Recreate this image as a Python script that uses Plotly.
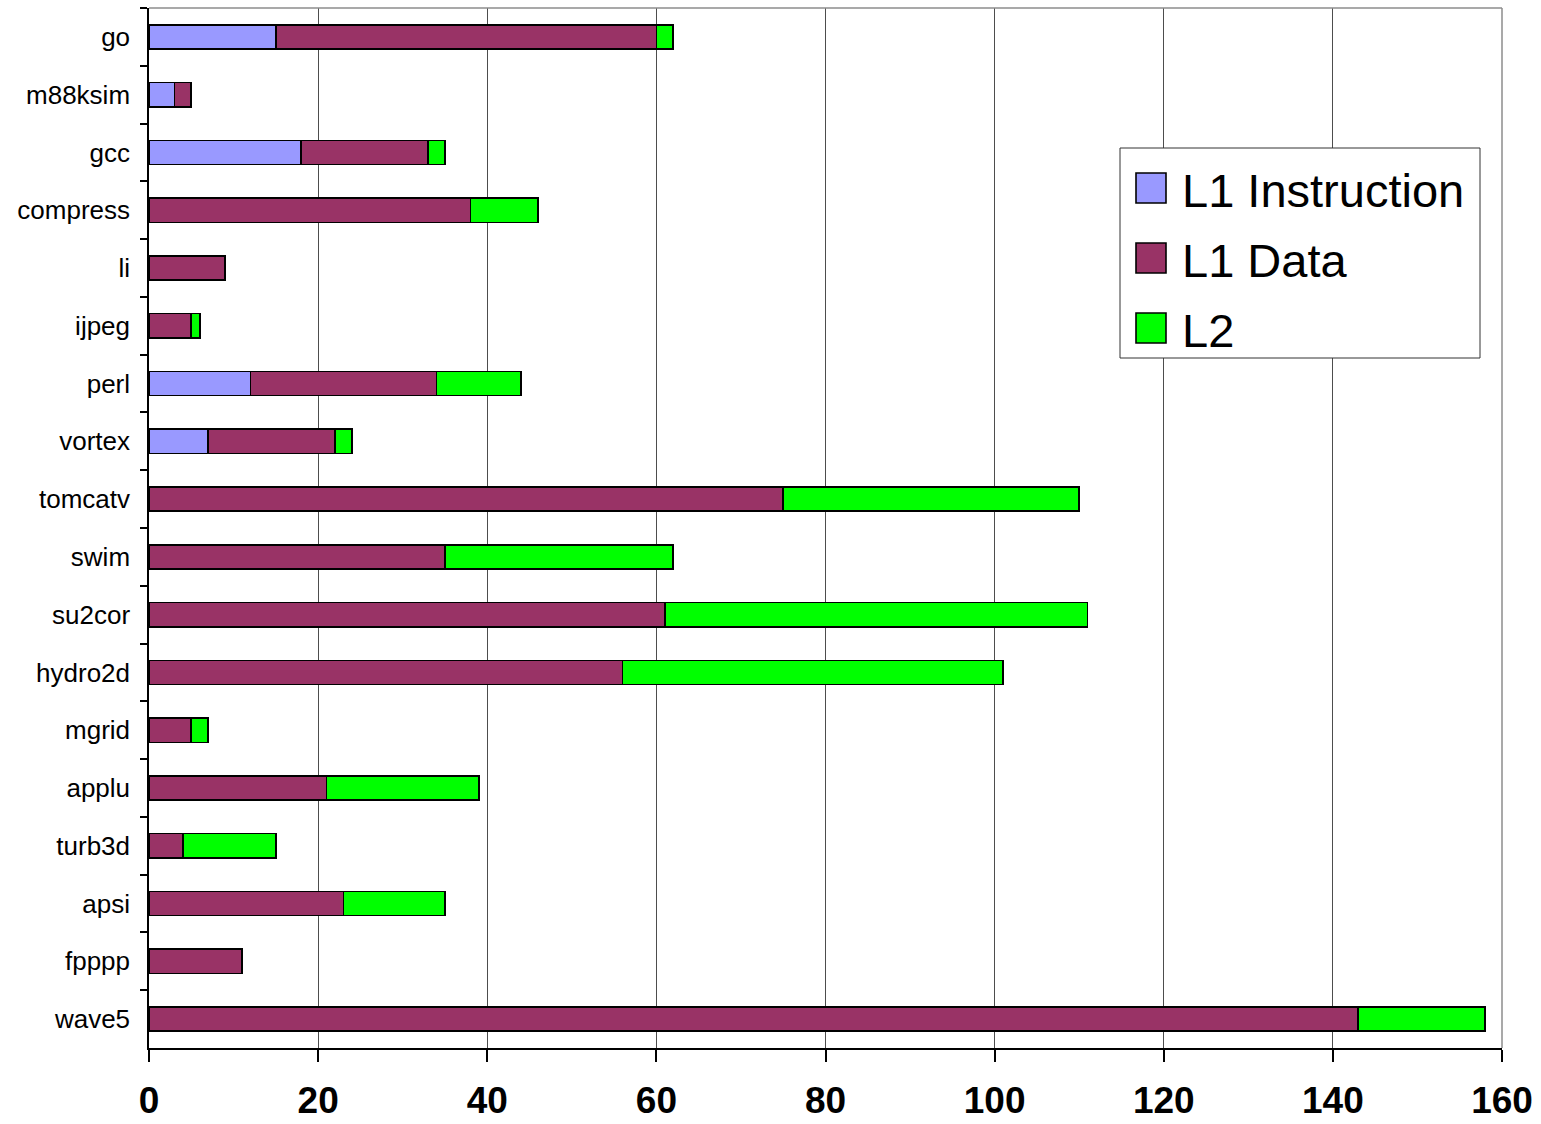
import plotly.graph_objects as go

# Benchmarks, top to bottom
benchmarks = ["go", "m88ksim", "gcc", "compress", "li", "ijpeg", "perl", "vortex",
              "tomcatv", "swim", "su2cor", "hydro2d", "mgrid", "applu", "turb3d",
              "apsi", "fpppp", "wave5"]

# Stall contributions per cache level
l1_instruction = [15, 3, 18, 0, 0, 0, 12, 7, 0, 0, 0, 0, 0, 0, 0, 0, 0, 0]
l1_data = [45, 2, 15, 38, 9, 5, 22, 15, 75, 35, 61, 56, 5, 21, 4, 23, 11, 143]
l2 = [2, 0, 2, 8, 0, 1, 10, 2, 35, 27, 50, 45, 2, 18, 11, 12, 0, 15]

series_names = ["L1 Instruction", "L1 Data", "L2"]
series_values = [l1_instruction, l1_data, l2]
series_colors = ["#9999FF", "#993366", "#00FF00"]

x_ticks = [0, 20, 40, 60, 80, 100, 120, 140, 160]

FONT = "Liberation Sans, Arial, Helvetica, sans-serif"

fig = go.Figure()
for name, vals, col in zip(series_names, series_values, series_colors):
    fig.add_trace(go.Bar(
        y=benchmarks, x=vals, name=name, orientation="h",
        width=0.42,
        marker=dict(color=col, line=dict(color="black", width=1.6)),
        showlegend=False,
    ))

# Plot-area geometry (pixels) used to place the legend box in paper units
W, H = 1541, 1124
L, R, T, B = 149, 39, 8, 76
pw, ph = W - L - R, H - T - B


def px(x):
    return (x - L) / pw


def py(y):
    return 1 - (y - T) / ph


shapes = [
    # light frame on top and right edges of the plot area
    dict(type="line", xref="paper", yref="paper", x0=0, x1=1, y0=1, y1=1,
         line=dict(color="#8c8c8c", width=1.5)),
    dict(type="line", xref="paper", yref="paper", x0=1, x1=1, y0=0, y1=1,
         line=dict(color="#8c8c8c", width=1.5)),
    # legend box
    dict(type="rect", xref="paper", yref="paper",
         x0=px(1120), x1=px(1480), y0=py(358), y1=py(148),
         fillcolor="white", line=dict(color="#333333", width=1), layer="above"),
]
annotations = []
centers = [188, 258, 328]
for name, col, cy in zip(series_names, series_colors, centers):
    shapes.append(dict(type="rect", xref="paper", yref="paper",
                       x0=px(1136), x1=px(1166), y0=py(cy + 15), y1=py(cy - 15),
                       fillcolor=col, line=dict(color="black", width=1.6), layer="above"))
    annotations.append(dict(xref="paper", yref="paper", x=px(1180), y=py(cy + 2),
                            text=name, showarrow=False, xanchor="left", yanchor="middle",
                            font=dict(family=FONT, size=47, color="black")))

fig.update_layout(
    barmode="stack",
    width=W, height=H,
    margin=dict(l=L, r=R, t=T, b=B, pad=0, autoexpand=False),
    paper_bgcolor="white", plot_bgcolor="white",
    shapes=shapes, annotations=annotations,
    showlegend=False,
)

fig.update_xaxes(
    range=[0, 160], tickvals=x_ticks, ticktext=[str(v) for v in x_ticks],
    showgrid=True, gridcolor="#4d4d4d", gridwidth=1,
    showline=True, linecolor="black", linewidth=1.5,
    ticks="outside", ticklen=12, tickcolor="black", tickwidth=1.5,
    ticklabelstandoff=7, automargin=False,
    tickfont=dict(family=FONT, size=37, color="black", weight="bold"),
    zeroline=False,
)
fig.update_yaxes(
    categoryorder="array", categoryarray=benchmarks, autorange="reversed",
    showgrid=False, showline=True, linecolor="black", linewidth=1.5,
    ticks="outside", ticklen=7, tickcolor="black", tickwidth=1.5,
    tickson="boundaries", ticklabelstandoff=12, automargin=False,
    tickfont=dict(family=FONT, size=26, color="black"),
)

fig.write_html("out.html")
